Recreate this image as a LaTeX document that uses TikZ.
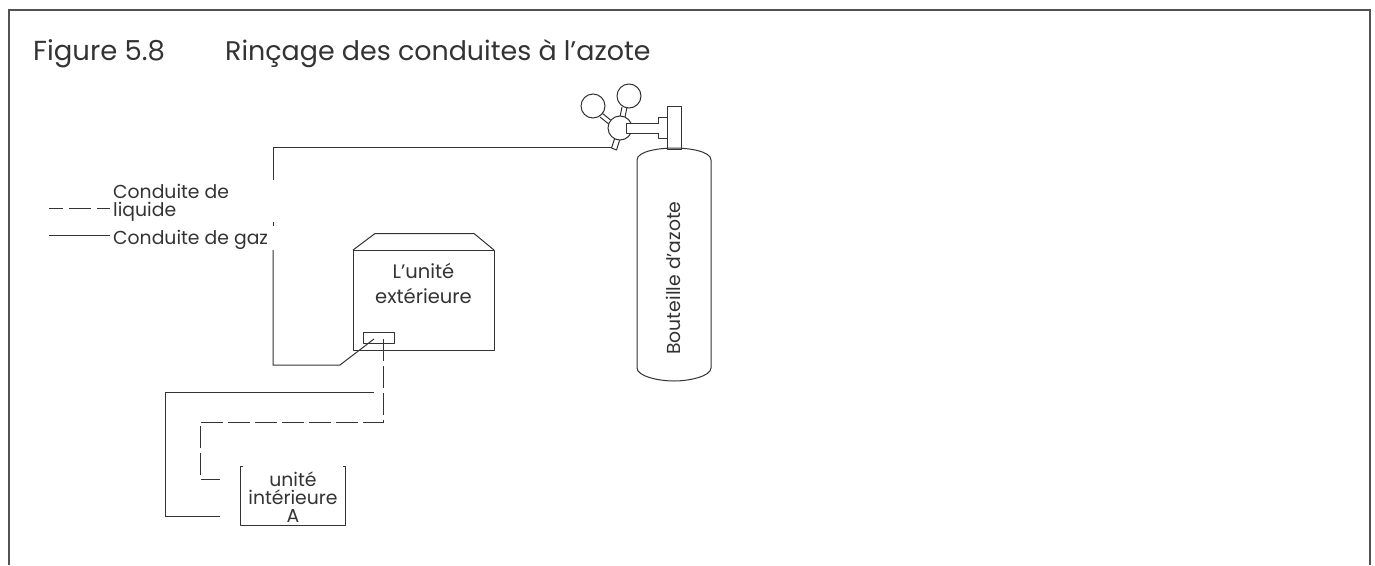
\documentclass[tikz,border=0pt]{standalone}
\usepackage{fontspec}
\setmainfont{Poppins}
\definecolor{ink}{HTML}{333333}
\tikzset{
  x=1pt,y=-1pt,
  pipe/.style={draw=ink,line width=1pt},
  liquid/.style={draw=ink,line width=1pt,dash pattern=on 22pt off 5pt},
  part/.style={draw=ink,line width=1pt,line join=round},
  label/.style={font=\fontsize{18.8}{18}\selectfont,text=ink,inner sep=0pt,align=center},
  titletext/.style={font=\fontsize{27.5}{30}\selectfont,text=ink,inner sep=0pt,anchor=base west},
  gauge/.style={circle,draw=ink,line width=1pt,minimum size=24pt,inner sep=0pt,fill=white}
}
\begin{document}
\begin{tikzpicture}
\useasboundingbox (0,0) rectangle (1375,565);
% frame
\coordinate (fa) at (9,565);
\coordinate (fb) at (9,10);
\coordinate (fc) at (1370,10);
\coordinate (fd) at (1370,565);
\draw[draw=ink!85,line width=1.4pt] (fa) -- (fb) -- (fc) -- (fd);
\node[titletext] (fignum) at (33,60) {Figure 5.8};
\node[titletext,font=\fontsize{26.9}{30}\selectfont] (figtitle) at (225,60) {Rinçage des conduites à l’azote};
% legend
\coordinate (lq1) at (49,208); \coordinate (lq2) at (110,208);
\coordinate (lg1) at (49,235); \coordinate (lg2) at (110,235);
\draw[liquid,dash pattern=on 14pt off 6pt on 22pt off 6pt on 13pt off 100pt] (lq1) -- (lq2);
\draw[pipe] (lg1) -- (lg2);
\node[label,anchor=west,align=left] (lqt) at (113,203) {Conduite de\\liquide};
\node[label,anchor=west] (lgt) at (113,240) {Conduite de gaz};
% cylinder
\coordinate (cyl1) at (637,160);
\coordinate (cyl2) at (711,160);
\coordinate (cyl3) at (711,368);
\coordinate (cyl4) at (637,368);
\draw[part] (cyl1) .. controls (637,151) and (660,148) .. (674,148)
  .. controls (688,148) and (711,151) .. (cyl2) -- (cyl3)
  .. controls (711,376) and (690,381) .. (674,381)
  .. controls (658,381) and (637,376) .. (cyl4) -- cycle;
\node[label,rotate=90] (cyltext) at (673,278) {Bouteille d’azote};
% valve
\draw[part] (667,149) rectangle (681,106);
\draw[part,fill=white] (658.5,117.5) rectangle (667,138.5);
\coordinate (stem) at (611.5,148);
\draw[part,fill=white] (611.5,148) -- (616.5,150) -- (620,139) -- (615,137.5) -- cycle;
\draw[part] (602,113) -- (613,122) (600,117) -- (610,125);
\draw[part] (622,107) -- (620,117) (627,107) -- (625,117);
\node[gauge] (g1) at (593,106) {};
\node[gauge] (g2) at (629,96) {};
\node[gauge] (ball) at (620,128) {};
\draw[draw=white,line width=2pt] (630,124) -- (634,124) (630,132) -- (634,132);
\draw[part,fill=white] (658.5,123) -- (626,123) -- (626,133) -- (658.5,133);
% outdoor unit
\coordinate (ua) at (353,250); \coordinate (ub) at (494,250);
\coordinate (uc) at (494,350); \coordinate (ud) at (353,350);
\draw[part] (ua) -- (375,233.5) -- (474,233.5) -- (ub);
\draw[part] (ua) -- (ub) -- (uc) -- (ud) -- cycle;
\node[label,font=\fontsize{19.5}{25}\selectfont] (outtext) at (423.5,283) {L’unité\\extérieure};
\coordinate (pa) at (363,332); \coordinate (pb) at (394,343.5);
\draw[part,fill=white] (pa) rectangle (pb);
% indoor unit
\coordinate (ia) at (242.5,466); \coordinate (ib) at (240,466);
\coordinate (ic) at (240,525); \coordinate (id) at (345,525);
\coordinate (ie) at (345,466); \coordinate (if) at (342.5,466);
\draw[part] (ia) -- (ib) -- (ic) -- (id) -- (ie) -- (if);
\node[label,text width=100pt] (intext) at (293,497) {unité\\intérieure\\A};
% gas pipe: bottle to outdoor unit
\coordinate (t1) at (612,147);
\coordinate (t2) at (273,147);
\coordinate (t3) at (273,180);
\coordinate (t4) at (273,222);
\coordinate (t5) at (273,226);
\coordinate (t6) at (273,250);
\coordinate (t7) at (273,365);
\coordinate (t8) at (340,365);
\coordinate (t9) at (374,339);
\draw[pipe] (t1) -- (t2) -- (t3);
\draw[pipe] (t4) -- (t5);
\draw[pipe] (t6) -- (t7) -- (t8) -- (t9);
% gas pipe to indoor
\coordinate (s1) at (374,392); \coordinate (s2) at (165,392);
\coordinate (s3) at (165,516); \coordinate (s4) at (220,516);
\draw[pipe] (s1) -- (s2) -- (s3) -- (s4);
% liquid pipe to indoor
\coordinate (d1) at (383,339); \coordinate (d2) at (383,422);
\coordinate (d3) at (200,422); \coordinate (d4) at (200,479);
\coordinate (d5) at (220,479);
\draw[liquid] (d1) -- (d2) -- (d3) -- (d4) -- (d5);
\end{tikzpicture}
\end{document}
